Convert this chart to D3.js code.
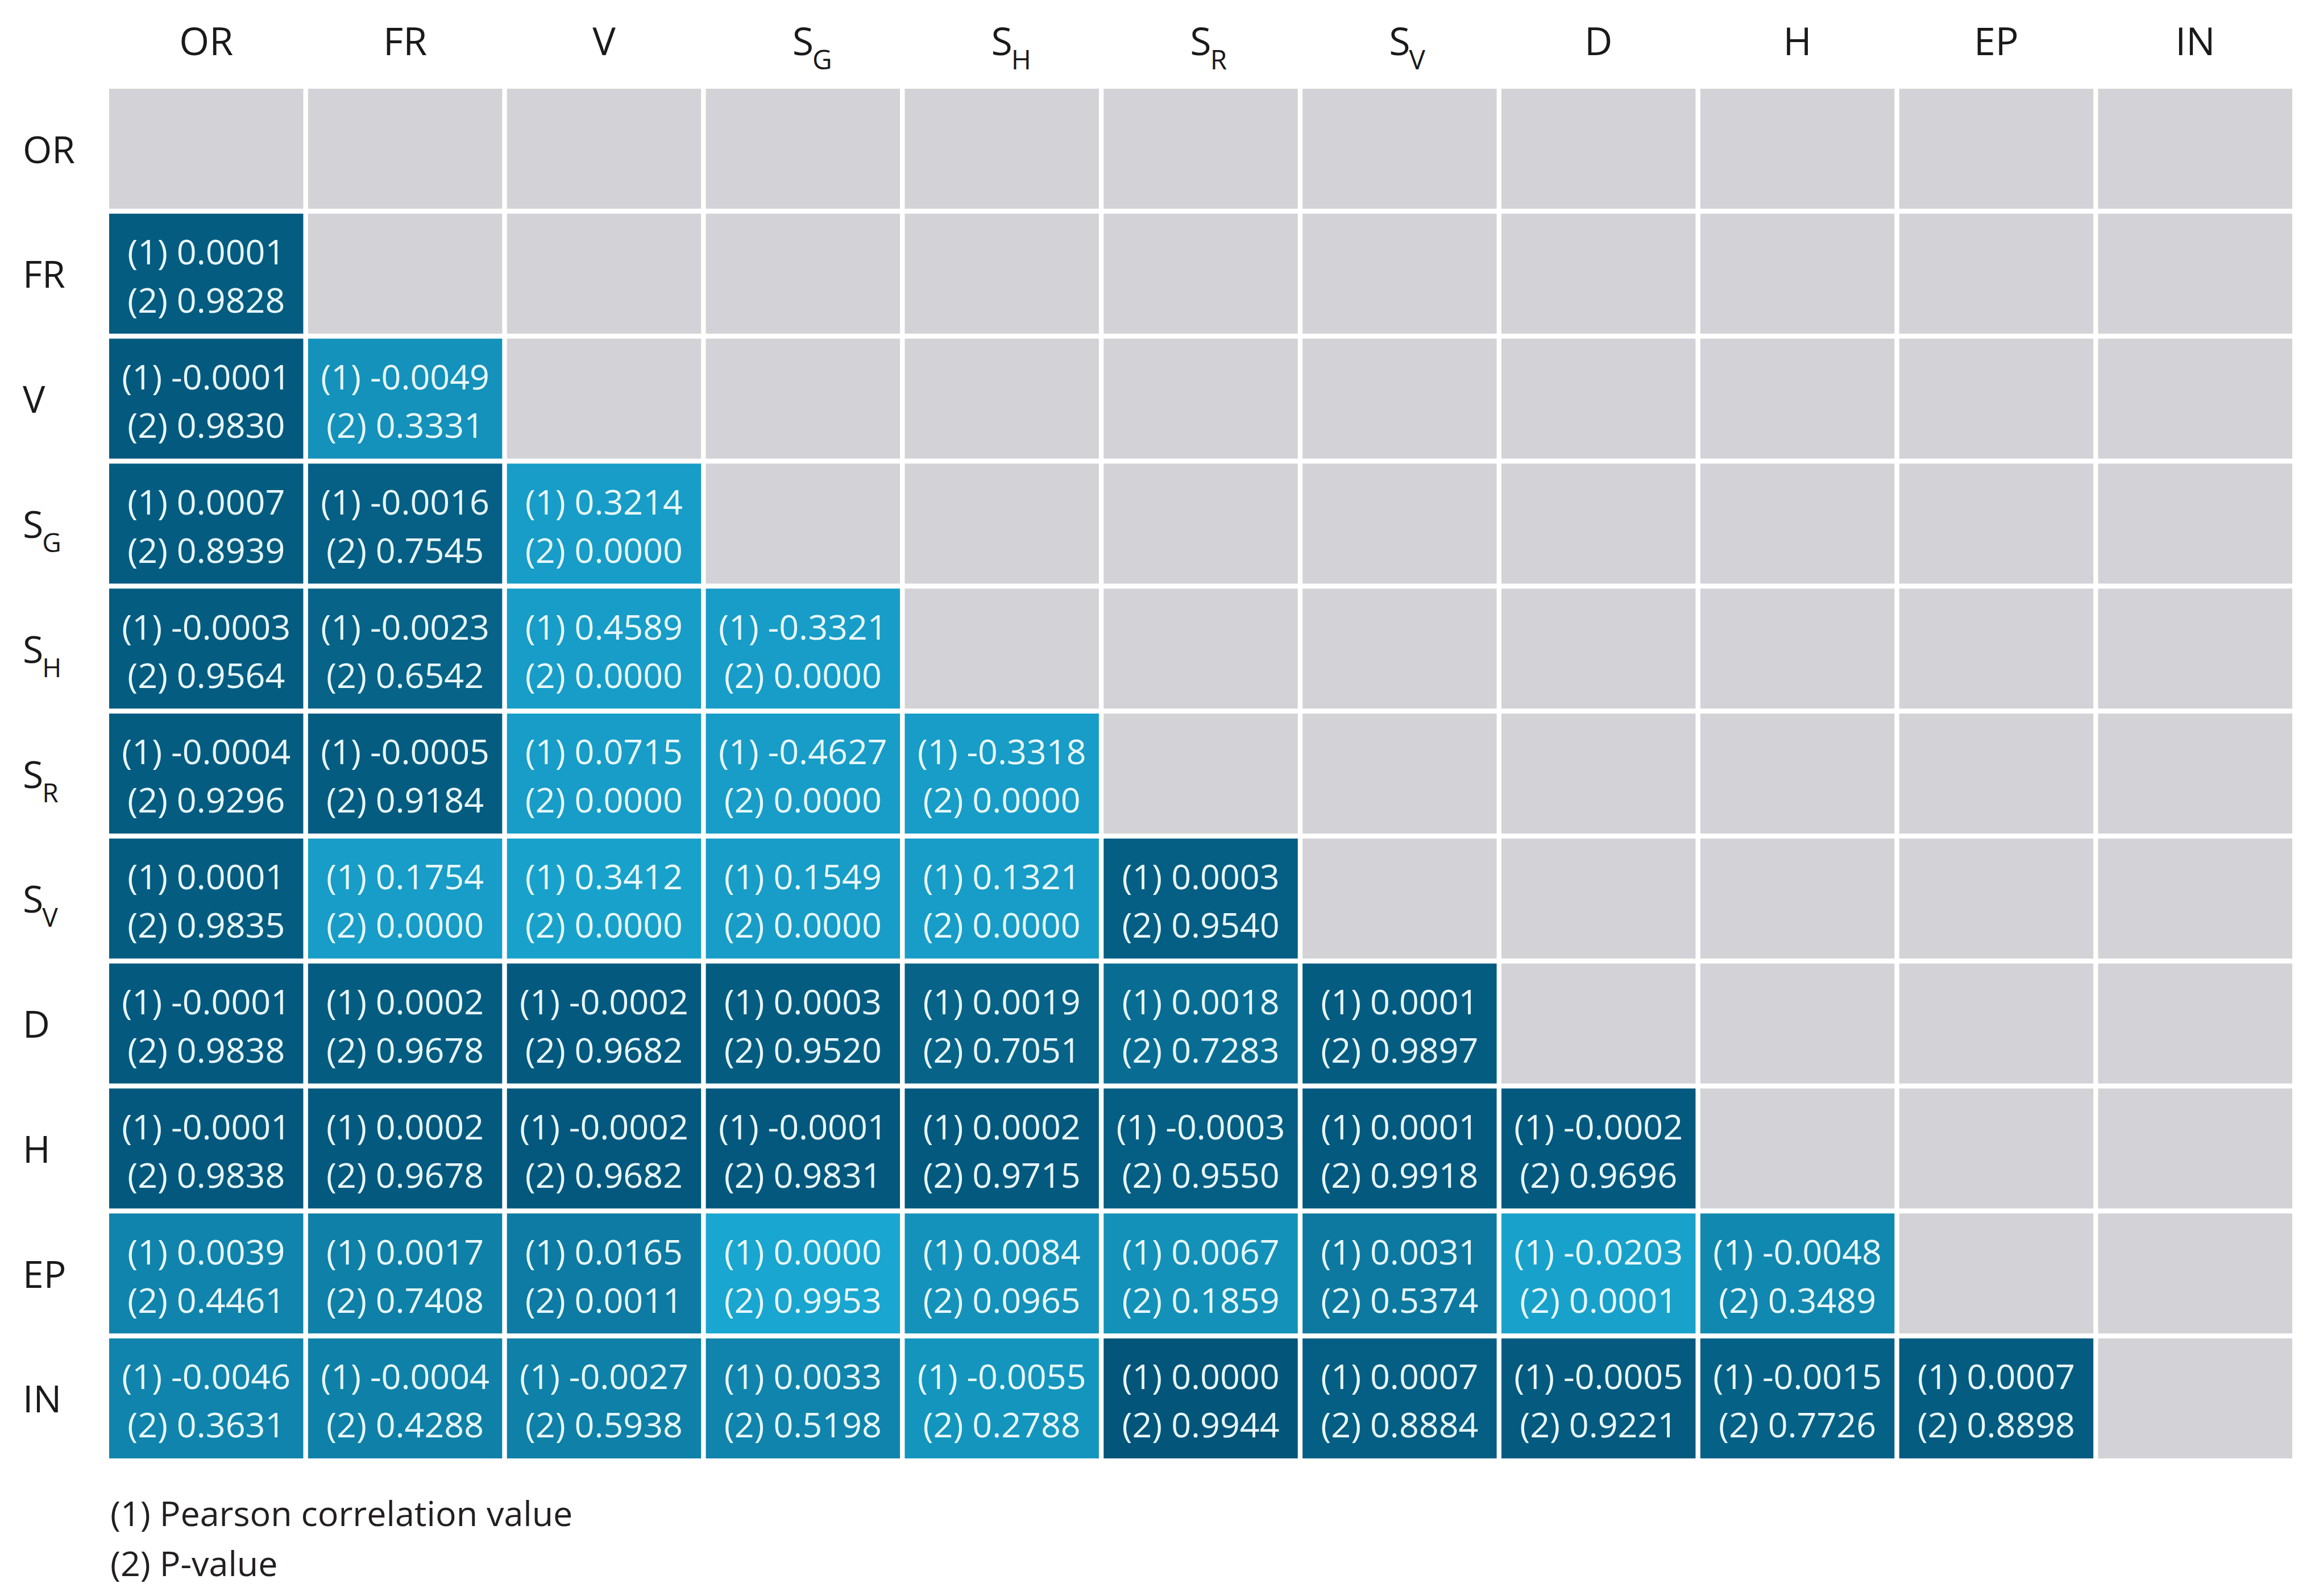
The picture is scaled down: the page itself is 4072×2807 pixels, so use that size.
<!DOCTYPE html>
<html>
<head>
<meta charset="utf-8">
<script src="https://cdn.jsdelivr.net/npm/d3@7"></script>
<style>
  html, body { margin: 0; padding: 0; background: #fff; }
  svg { display: block; }
  text { font-family: "Open Sans", "Noto Sans", sans-serif; }
</style>
</head>
<body>
<div id="chart"></div>
<script>
// variables (a "_" marks a subscript)
const variables = ["OR", "FR", "V", "S_G", "S_H", "S_R", "S_V", "D", "H", "EP", "IN"];

// (1) Pearson correlation value, lower triangle, row by row
const pearson = [
  [],
  [0.0001],
  [-0.0001, -0.0049],
  [0.0007, -0.0016, 0.3214],
  [-0.0003, -0.0023, 0.4589, -0.3321],
  [-0.0004, -0.0005, 0.0715, -0.4627, -0.3318],
  [0.0001, 0.1754, 0.3412, 0.1549, 0.1321, 0.0003],
  [-0.0001, 0.0002, -0.0002, 0.0003, 0.0019, 0.0018, 0.0001],
  [-0.0001, 0.0002, -0.0002, -0.0001, 0.0002, -0.0003, 0.0001, -0.0002],
  [0.0039, 0.0017, 0.0165, 0.0000, 0.0084, 0.0067, 0.0031, -0.0203, -0.0048],
  [-0.0046, -0.0004, -0.0027, 0.0033, -0.0055, 0.0000, 0.0007, -0.0005, -0.0015, 0.0007]
];

// (2) P-value
const pvalues = [
  [],
  [0.9828],
  [0.9830, 0.3331],
  [0.8939, 0.7545, 0.0000],
  [0.9564, 0.6542, 0.0000, 0.0000],
  [0.9296, 0.9184, 0.0000, 0.0000, 0.0000],
  [0.9835, 0.0000, 0.0000, 0.0000, 0.0000, 0.9540],
  [0.9838, 0.9678, 0.9682, 0.9520, 0.7051, 0.7283, 0.9897],
  [0.9838, 0.9678, 0.9682, 0.9831, 0.9715, 0.9550, 0.9918, 0.9696],
  [0.4461, 0.7408, 0.0011, 0.9953, 0.0965, 0.1859, 0.5374, 0.0001, 0.3489],
  [0.3631, 0.4288, 0.5938, 0.5198, 0.2788, 0.9944, 0.8884, 0.9221, 0.7726, 0.8898]
];

// shading level of each cell (0 = darkest, 1 = lightest)
const tones = [
  [],
  [0.08],
  [0.05, 0.72],
  [0.08, 0.12, 0.85],
  [0.08, 0.16, 0.85, 0.85],
  [0.08, 0.08, 0.85, 0.85, 0.85],
  [0.08, 0.85, 0.9, 0.85, 0.85, 0.1],
  [0.05, 0.08, 0.05, 0.08, 0.16, 0.28, 0.08],
  [0.03, 0.05, 0.03, 0.03, 0.05, 0.1, 0.05, 0.05],
  [0.55, 0.5, 0.45, 0.95, 0.72, 0.7, 0.42, 0.9, 0.6],
  [0.55, 0.52, 0.5, 0.55, 0.75, 0.0, 0.1, 0.06, 0.14, 0.08]
];

const legendLines = ["(1) Pearson correlation value", "(2) P-value"];

const width = 4072, height = 2807;
const grid = { left: 192, right: 4032, top: 156, bottom: 2565 };

const svg = d3.select("#chart").append("svg")
    .attr("width", width)
    .attr("height", height);

const x = d3.scaleBand()
    .domain(variables)
    .range([grid.left, grid.right])
    .paddingInner(0.024);

const y = d3.scaleBand()
    .domain(variables)
    .range([grid.top, grid.bottom])
    .paddingInner(0.04);

const shade = d3.scaleLinear()
    .domain([0, 1])
    .range(["#03557a", "#1aaad4"]);

const fmt = v => v.toFixed(4);

// build cells: lower triangle carries values, the rest is grey
const cells = [];
variables.forEach((rowVar, i) => {
  variables.forEach((colVar, j) => {
    const filled = j < i;
    cells.push({
      row: rowVar,
      col: colVar,
      filled: filled,
      r: filled ? pearson[i][j] : null,
      p: filled ? pvalues[i][j] : null,
      tone: filled ? tones[i][j] : null
    });
  });
});

const cell = svg.append("g").selectAll("g.cell")
  .data(cells)
  .join("g")
    .attr("class", "cell")
    .attr("transform", d => `translate(${x(d.col)},${y(d.row)})`);

cell.append("rect")
    .attr("width", x.bandwidth())
    .attr("height", y.bandwidth())
    .attr("fill", d => d.filled ? shade(d.tone) : "#d3d2d7");

const filledCells = cell.filter(d => d.filled);

filledCells.append("text")
    .attr("x", x.bandwidth() / 2)
    .attr("y", y.bandwidth() / 2 - 16)
    .attr("text-anchor", "middle")
    .attr("font-size", 61)
    .attr("fill", "#e9f8fc")
    .text(d => "(1) " + fmt(d.r));

filledCells.append("text")
    .attr("x", x.bandwidth() / 2)
    .attr("y", y.bandwidth() / 2 + 69)
    .attr("text-anchor", "middle")
    .attr("font-size", 61)
    .attr("fill", "#e9f8fc")
    .text(d => "(2) " + fmt(d.p));

// labels with optional subscript
function drawLabel(g, name, px, py, anchor, size) {
  const parts = name.split("_");
  const main = g.append("text")
      .attr("x", px)
      .attr("y", py)
      .attr("text-anchor", anchor)
      .attr("font-size", size)
      .attr("fill", "#1a1a1a")
      .text(parts[0]);
  if (parts.length > 1) {
    const w = main.node().getComputedTextLength();
    const startX = anchor === "middle" ? px + w / 2 : px + w;
    g.append("text")
        .attr("x", startX - 2)
        .attr("y", py + 25)
        .attr("font-size", size * 0.7)
        .attr("fill", "#1a1a1a")
        .text(parts[1]);
  }
}

const colLabels = svg.append("g");
variables.forEach(v => drawLabel(colLabels, v, x(v) + x.bandwidth() / 2, 97, "middle", 68));

const rowLabels = svg.append("g");
variables.forEach(v => drawLabel(rowLabels, v, 40, y(v) + y.bandwidth() / 2 + 25, "start", 66));

// legend
svg.append("g").selectAll("text")
  .data(legendLines)
  .join("text")
    .attr("x", 194)
    .attr("y", (d, i) => 2684 + i * 88)
    .attr("font-size", 61)
    .attr("fill", "#231f20")
    .text(d => d);
</script>
</body>
</html>
